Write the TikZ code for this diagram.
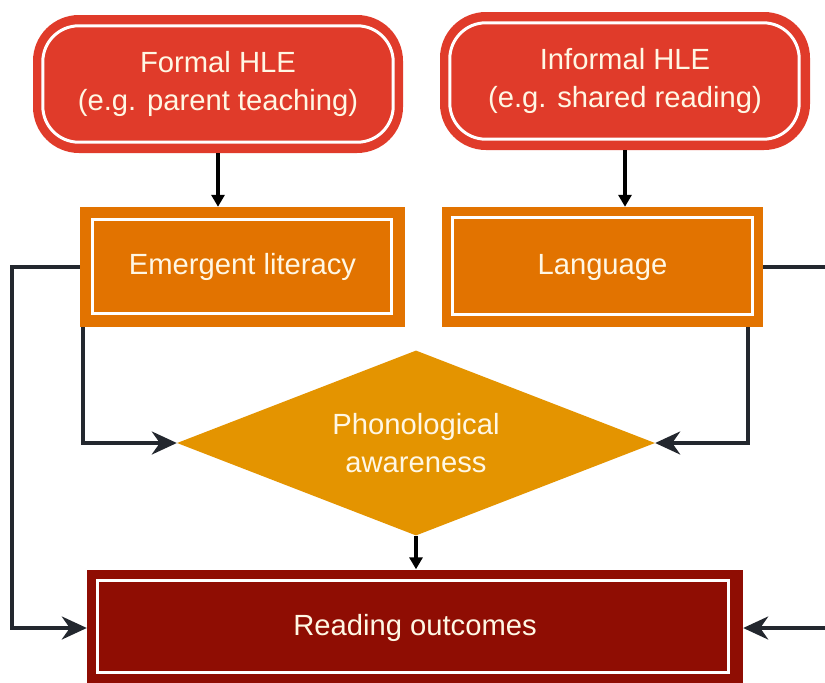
\documentclass[tikz,border=0pt]{standalone}
\usepackage{fontspec}
\setmainfont{Liberation Sans}
\usetikzlibrary{arrows.meta,shapes.geometric}

\definecolor{hlered}{HTML}{E03B2A}
\definecolor{midorange}{HTML}{E27300}
\definecolor{amber}{HTML}{E49400}
\definecolor{darkred}{HTML}{8F0D03}
\definecolor{linkgray}{HTML}{23272E}
\definecolor{labeltext}{HTML}{FFF7E4}

\tikzset{
  boxtext/.style={text=labeltext, align=center, inner sep=0pt,
    font=\fontsize{29.2}{38}\selectfont},
  hlebox/.style={boxtext, fill=hlered, rounded corners=46pt,
    minimum width=370pt, minimum height=138pt},
  skillbox/.style={boxtext, fill=midorange, minimum height=120pt},
  outcomebox/.style={boxtext, fill=darkred, minimum width=656pt, minimum height=117pt},
  phonshape/.style={boxtext, fill=amber, shape=diamond, aspect=2.58,
    minimum width=478pt, minimum height=185pt},
  frame/.style={draw=white, line width=3pt},
  feed/.style={draw=black, line width=3.2pt, -{Triangle[length=12pt,width=13pt]}},
  link/.style={draw=linkgray, line width=3.5pt,
    -{Stealth[length=25pt,width=23pt,inset=8pt]}},
}

\begin{document}
\begin{tikzpicture}[x=1pt,y=-1pt]
  \useasboundingbox (0,0) rectangle (825,683);
  \fill[white] (0,0) rectangle (825,683);
  \clip (0,0) rectangle (825,683);

  % home learning environment sources
  \node[hlebox] (formal) at (218,84) {Formal HLE\\(e.g. parent teaching)};
  \draw[frame, rounded corners=36pt]
    ([shift={(10pt,-11pt)}]formal.north west) rectangle ([shift={(-10pt,11pt)}]formal.south east);
  \node[hlebox] (informal) at (625,81) {Informal HLE\\(e.g. shared reading)};
  \draw[frame, rounded corners=36pt]
    ([shift={(10pt,-11pt)}]informal.north west) rectangle ([shift={(-11pt,11pt)}]informal.south east);

  % intermediate skills
  \node[skillbox, minimum width=325pt] (emergent) at (242.5,267) {Emergent literacy};
  \draw[frame]
    ([shift={(13pt,-13pt)}]emergent.north west) rectangle ([shift={(-14pt,14pt)}]emergent.south east);
  \node[skillbox, minimum width=321pt] (language) at (602.5,267) {Language};
  \draw[frame]
    ([shift={(11pt,-11pt)}]language.north west) rectangle ([shift={(-11pt,13pt)}]language.south east);

  % phonological awareness
  \node[phonshape] (phon) at (416,443) {Phonological\\awareness};

  % outcome
  \node[outcomebox] (reading) at (415,628) {Reading outcomes};
  \draw[frame]
    ([shift={(11pt,-11pt)}]reading.north west) rectangle ([shift={(-15pt,14pt)}]reading.south east);

  % connectors
  \draw[feed] (formal.south) -- (formal.south |- emergent.north);
  \draw[feed] (informal.south) -- (informal.south |- language.north);
  \draw[feed] (phon.south) -- (phon.south |- reading.north);

  \draw[link] (emergent.west) -- ++(-68pt,0) |- (reading.west);
  \draw[link] ([xshift=3pt]emergent.south west) |- (phon.west);
  \draw[link] (language.east) -- ++(80pt,0) |- (reading.east);
  \draw[link] ([xshift=-15pt]language.south east) |- (phon.east);
\end{tikzpicture}
\end{document}
